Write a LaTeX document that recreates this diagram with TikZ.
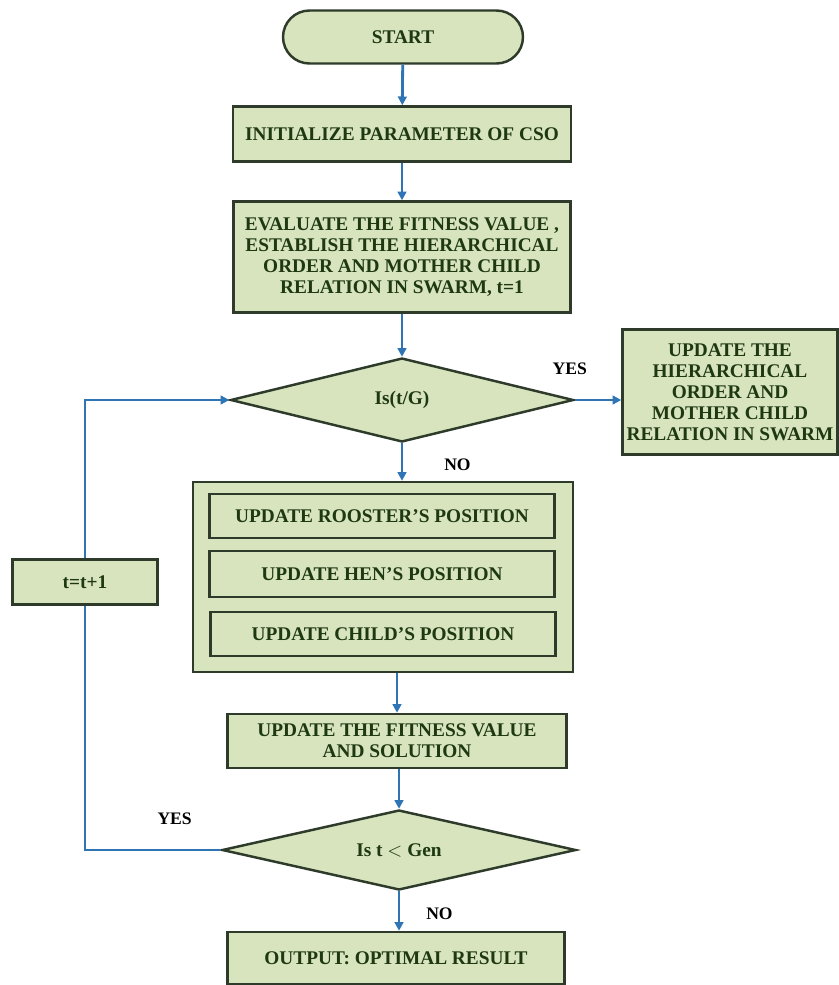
\documentclass[tikz,border=0pt]{standalone}
\usepackage{fontspec}
\setmainfont{Liberation Serif}
\usepackage{tikz}
\usetikzlibrary{arrows.meta,shapes.geometric,calc}
\definecolor{boxgreen}{HTML}{D7E4BD}
\definecolor{boxline}{HTML}{2E3A2A}
\definecolor{txtgreen}{HTML}{1E3812}
\definecolor{flowblue}{HTML}{2F75B5}
\newcommand{\clrfill}{boxgreen}
\newcommand{\clrline}{boxline}
\newcommand{\clrarrow}{flowblue}

\begin{document}
\begin{tikzpicture}[x=0.02cm, y=-0.02cm,
    every node/.style={font=\fontsize{11}{12}\selectfont\bfseries, text=txtgreen, align=center},
    proc/.style={draw=\clrline, fill=\clrfill, line width=1.4pt, inner sep=2pt},
    decision/.style={diamond, aspect=4, draw=\clrline, fill=\clrfill, line width=1.4pt, inner sep=0pt},
    flow/.style={draw=\clrarrow, line width=1.6pt, -{Triangle[length=5pt,width=5pt]}},
    lbl/.style={font=\fontsize{10}{12}\selectfont\bfseries, text=black}]
    \useasboundingbox (0,0) rectangle (839,985);
%main column
    \node[proc, rounded corners=0.53cm, minimum width=4.8cm, minimum height=1.06cm] (start) at (403,37) {START};
    \node[proc, minimum width=6.76cm, minimum height=1.1cm] (init) at (402,134) {INITIALIZE PARAMETER OF CSO};
    \node[proc, minimum width=6.74cm, minimum height=2.22cm] (eval) at (402,257) {EVALUATE THE FITNESS VALUE ,\\ESTABLISH THE HIERARCHICAL\\ORDER AND MOTHER CHILD\\RELATION IN SWARM, t=1};
    \node[decision, minimum width=6.86cm, minimum height=1.68cm] (dec1) at (402,400) {Is(t/G)};
    \node[proc, minimum width=4.3cm, minimum height=2.5cm, inner sep=1pt] (hier) at (730,392) {UPDATE THE\\HIERARCHICAL\\ORDER AND\\MOTHER CHILD\\RELATION IN SWARM};
%update block
    \node[proc, minimum width=7.6cm, minimum height=3.8cm] (upd) at (383,577) {};
    \node[proc, minimum width=6.9cm, minimum height=0.88cm] (rooster) at (382,516) {UPDATE ROOSTER'S POSITION};
    \node[proc, minimum width=6.9cm, minimum height=0.92cm] (hen) at (382,574) {UPDATE HEN'S POSITION};
    \node[proc, minimum width=6.9cm, minimum height=0.88cm] (child) at (383,634) {UPDATE CHILD'S POSITION};
    \node[proc, minimum width=2.9cm, minimum height=0.9cm] (incr) at (85,582) {t=t+1};
%lower column
    \node[proc, minimum width=6.78cm, minimum height=1.08cm] (fit) at (397,741) {UPDATE THE FITNESS VALUE\\AND SOLUTION};
    \node[decision, minimum width=7.08cm, minimum height=1.6cm] (dec2) at (399,850) {Is t $<$ Gen};
    \node[proc, minimum width=6.74cm, minimum height=1.04cm] (out) at (396,958) {OUTPUT: OPTIMAL RESULT};
%arrows
    \draw[flow] (start) -- (init);
    \draw[flow] (init) -- (eval);
    \draw[flow] (eval) -- (dec1);
    \draw[flow] (dec1.east) -- node[lbl, pos=0, anchor=south, xshift=-0.1cm, yshift=0.36cm] {YES} (dec1.east -| hier.west);
    \draw[flow] (dec1.south) -- node[lbl, right, xshift=0.7cm, yshift=-0.05cm] {NO} (dec1.south |- upd.north);
    \draw[flow] (fit.north |- upd.south) -- (fit.north);
    \draw[flow] (fit.south -| dec2.north) -- (dec2.north);
    \draw[flow] (dec2.south) -- node[lbl, right, xshift=0.4cm, yshift=-0.05cm] {NO} (dec2.south |- out.north);
    \draw[draw=\clrarrow, line width=1.6pt] (dec2.west) -- node[lbl, pos=0.34, anchor=south, yshift=0.36cm] {YES} (dec2.west -| incr.south) -- (incr.south);
    \draw[flow] (incr.north) |- (dec1.west);
\end{tikzpicture}
\end{document}
